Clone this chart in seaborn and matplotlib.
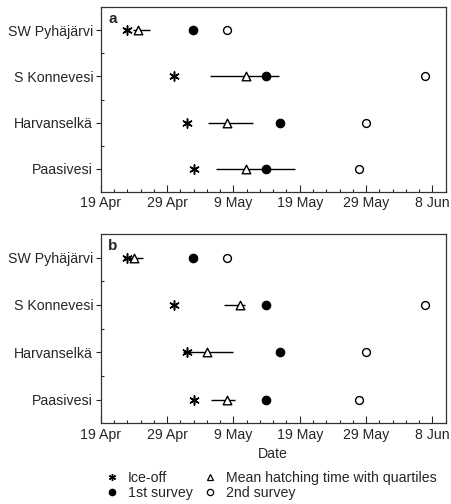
import numpy as np
import matplotlib
matplotlib.use("Agg")
import matplotlib.pyplot as plt
from matplotlib.lines import Line2D
from matplotlib.ticker import MultipleLocator, FixedLocator
import seaborn as sns

# 数据：日期以“4月19日之后的天数”表示
lakes = ["SW Pyhäjärvi", "S Konnevesi", "Harvanselkä", "Paasivesi"]
ice_off = [3.9, 11.0, 13.0, 14.0]
survey_1st = [13.9, 24.9, 27.0, 24.9]
survey_2nd = [19.0, 48.9, 40.0, 39.0]

# a 面板：平均孵化时间与四分位
hatch_a = [5.6, 21.9, 19.0, 21.9]
q1_a = [4.8, 16.4, 16.1, 17.3]
q3_a = [7.4, 26.8, 22.9, 29.3]

# b 面板
hatch_b = [5.0, 21.0, 16.0, 19.0]
q1_b = [3.5, 18.6, 12.4, 16.6]
q3_b = [6.3, 21.8, 20.0, 20.3]

tick_days = [0, 10, 20, 30, 40, 50]
tick_labels = ["19 Apr", "29 Apr", "9 May", "19 May", "29 May", "8 Jun"]

sns.set_style("ticks")
plt.rcParams["font.family"] = ["Liberation Sans", "DejaVu Sans"]
plt.rcParams["font.size"] = 10.2

ASTER = (6, 2, 0)


def draw_panel(ax, hatch, q1, q3, label):
    ypos = np.arange(len(lakes))
    ax.hlines(ypos, q1, q3, color="black", lw=1.0, zorder=2)
    sns.scatterplot(x=ice_off, y=ypos, marker=ASTER, color="black", s=45,
                    linewidth=1.1, ax=ax, zorder=3)
    sns.scatterplot(x=hatch, y=ypos, marker="^", facecolor="white", edgecolor="black",
                    s=38, linewidth=1.0, ax=ax, zorder=4)
    sns.scatterplot(x=survey_1st, y=ypos, marker="o", color="black", edgecolor="black",
                    s=38, linewidth=0.8, ax=ax, zorder=4)
    sns.scatterplot(x=survey_2nd, y=ypos, marker="o", facecolor="white", edgecolor="black",
                    s=32, linewidth=1.0, ax=ax, zorder=4)

    ax.set_xlim(0, 52)
    ax.set_ylim(3.5, -0.5)
    ax.set_xticks(tick_days)
    ax.set_xticklabels(tick_labels)
    ax.xaxis.set_minor_locator(MultipleLocator(2))
    ax.set_yticks(ypos)
    ax.set_yticklabels(lakes)
    ax.yaxis.set_minor_locator(FixedLocator([0.5, 1.5, 2.5]))
    ax.tick_params(axis="x", which="major", direction="in", length=5, width=0.8, pad=3)
    ax.tick_params(axis="x", which="minor", direction="in", length=2.5, width=0.8)
    ax.tick_params(axis="y", which="major", direction="out", length=3.5, width=0.8, pad=2)
    ax.tick_params(axis="y", which="minor", direction="in", length=2.5, width=0.8)
    for sp in ax.spines.values():
        sp.set_visible(True)
        sp.set_linewidth(0.9)
        sp.set_color("#333333")
    ax.text(0.022, 0.975, label, transform=ax.transAxes, va="top", ha="left",
            fontweight="bold", fontsize=11)


fig = plt.figure(figsize=(4.52, 5.04), dpi=100)
ax_a = fig.add_axes([0.223, 0.619, 0.763, 0.367])
ax_b = fig.add_axes([0.223, 0.160, 0.763, 0.376])

draw_panel(ax_a, hatch_a, q1_a, q3_a, "a")
draw_panel(ax_b, hatch_b, q1_b, q3_b, "b")
ax_b.set_xlabel("Date", labelpad=4)

handles = [
    Line2D([], [], ls="none", marker=ASTER, color="black", ms=5, mew=1.0),
    Line2D([], [], ls="none", marker="o", color="black", ms=4.5),
    Line2D([], [], ls="none", marker="^", mfc="white", mec="black", ms=4.5, mew=0.9),
    Line2D([], [], ls="none", marker="o", mfc="white", mec="black", ms=4.5, mew=0.9),
]
labels = ["Ice-off", "1st survey", "Mean hatching time with quartiles", "2nd survey"]
fig.legend(handles, labels, ncol=2, loc="center left", bbox_to_anchor=(0.229, 0.037),
           frameon=False, handlelength=1.0, handletextpad=0.6, columnspacing=0.75,
           labelspacing=0.05, borderpad=0.1, borderaxespad=0)

fig.savefig("out.png", dpi=100)
